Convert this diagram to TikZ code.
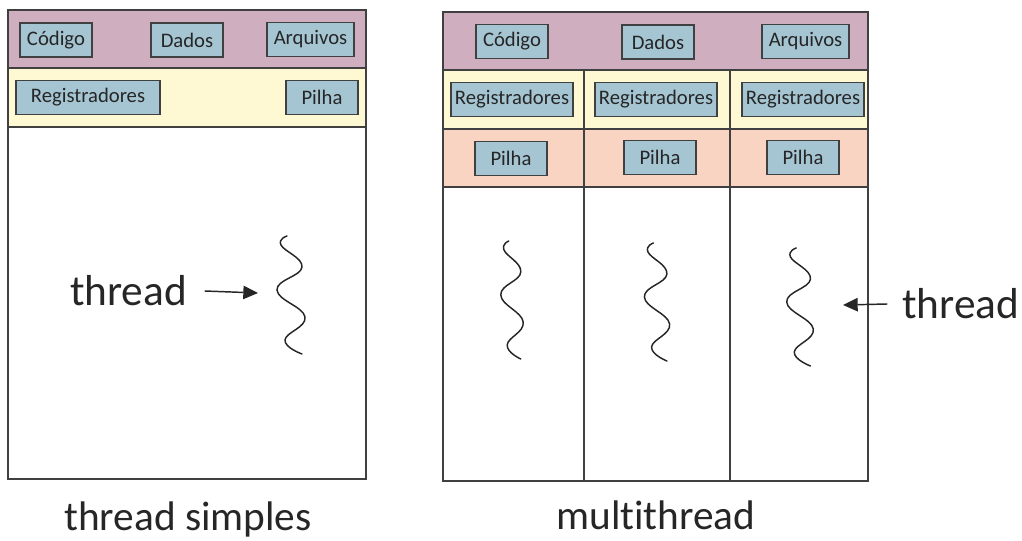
\documentclass[tikz,border=0pt]{standalone}
\usepackage{fontspec}
\setmainfont[Ligatures={NoCommon}]{Carlito}
\usetikzlibrary{arrows.meta}
\definecolor{shared}{RGB}{207,175,191}
\definecolor{regs}{RGB}{255,249,211}
\definecolor{stackrow}{RGB}{250,212,195}
\definecolor{boxblue}{RGB}{165,197,211}
\definecolor{edge}{RGB}{64,64,64}
\definecolor{ink}{RGB}{38,38,38}
\tikzset{
  blk/.style={draw=edge, fill=boxblue, line width=1.3pt, inner sep=0pt,
    minimum height=25.5pt, text=ink, font=\fontsize{15.5}{18}\selectfont},
  w72/.style={blk, minimum width=54pt},
  w87/.style={blk, minimum width=65pt},
  w122/.style={blk, minimum width=91.5pt},
  w144/.style={blk, minimum width=108pt},
  frame/.style={draw=edge, line width=1.3pt},
  bigtext/.style={text=ink, font=\fontsize{31}{36}\selectfont, inner sep=0pt},
  pointer/.style={draw=ink, line width=1.1pt, -{Triangle[length=11pt,width=10pt]}},
  wave/.style={draw=ink, line width=1.1pt, line cap=round},
  pics/squiggle/.style={code={
    \draw[wave] plot[smooth, tension=0.75] coordinates
      {(-4,-59) (-10,-50) (11,-28) (-14,-5) (14,22) (-6,45) (11,59)};
  }}
}
\begin{document}
\begin{tikzpicture}[x=0.75pt, y=-0.75pt]
\useasboundingbox (0,0) rectangle (1022,541);

% ---- single-threaded process ----
\fill[shared] (8,10) rectangle (366,68);
\fill[regs] (8,68) rectangle (366,127);
\draw[frame] (8,10) rectangle (366,479);
\draw[frame] (8,68) -- (366,68);
\draw[frame] (8,127) -- (366,127);

\node[w72] (lcod) at (56,40) {Código};
\node[w72] (ldat) at (187,40) {Dados};
\node[w87] (larq) at (310.5,39.5) {Arquivos};
\node[w144] (lreg) at (88,97.5) {Registradores};
\node[w72] (lpil) at (322,97.5) {Pilha};

\pic at (291,295) {squiggle};
\coordinate (lwave) at (258,293);
\node[bigtext, font=\fontsize{32.5}{38}\selectfont] (lthr) at (128.5,291) {thread};
\draw[pointer] ([xshift=13pt]lthr.east) -- (lwave);

\node[bigtext] (lcap) at (188,519) {thread simples};

% ---- multithreaded process ----
\fill[shared] (443,12) rectangle (868,70);
\fill[regs] (443,70) rectangle (868,129);
\fill[stackrow] (443,129) rectangle (868,187);
\draw[frame] (443,12) rectangle (868,481);
\draw[frame] (443,70) -- (868,70);
\draw[frame] (443,129) -- (868,129);
\draw[frame] (443,187) -- (868,187);
\draw[frame] (584,70) -- (584,481);
\draw[frame] (730,70) -- (730,481);

\node[w72] (rcod) at (512,41.5) {Código};
\node[w72] (rdat) at (658,42) {Dados};
\node[w87] (rarq) at (805.5,41.5) {Arquivos};
\node[w122] (rreg1) at (512,99.5) {Registradores};
\node[w122] (rreg2) at (656,99.5) {Registradores};
\node[w122] (rreg3) at (803,99.5) {Registradores};
\node[w72] (rpil1) at (511,158.5) {Pilha};
\node[w72] (rpil2) at (660,157.5) {Pilha};
\node[w72] (rpil3) at (803,157.5) {Pilha};

\pic[xscale=0.8] at (512,300) {squiggle};
\pic[xscale=0.9] at (657,302) {squiggle};
\pic[xscale=0.95] at (800,307) {squiggle};

\coordinate (rwave) at (843,305);
\node[bigtext, anchor=west, font=\fontsize{32.5}{38}\selectfont] (rthr) at (902,304) {thread};
\draw[pointer] ([xshift=-11pt]rthr.west) -- (rwave);

\node[bigtext] (rcap) at (656,515) {mult\kern0pt ithread};
\end{tikzpicture}
\end{document}
